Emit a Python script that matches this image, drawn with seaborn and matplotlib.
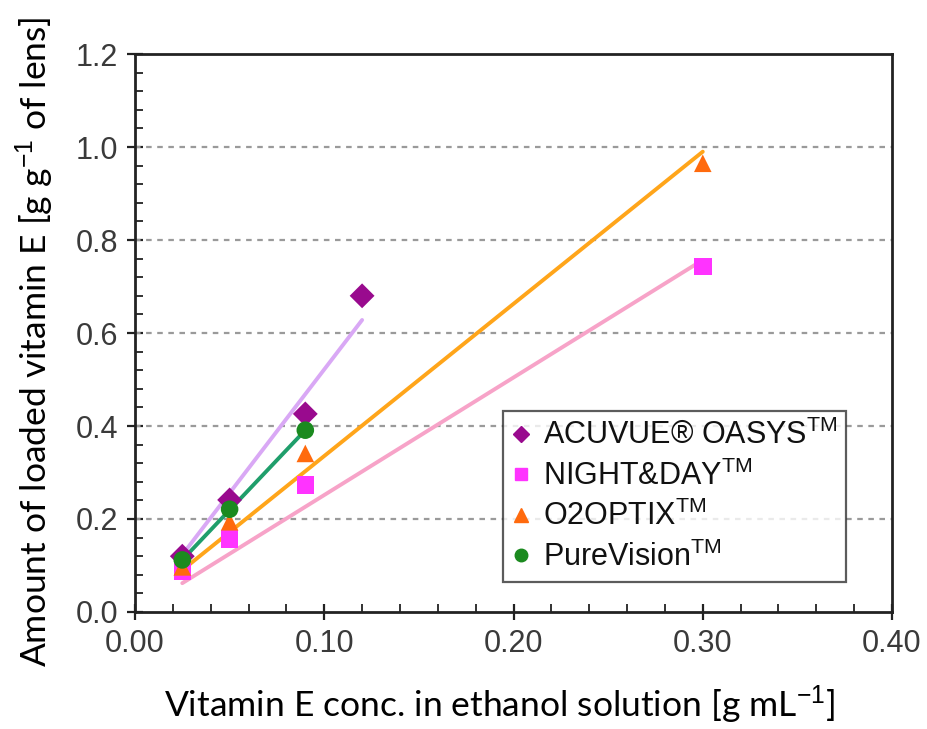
import matplotlib
matplotlib.use("Agg")
import matplotlib.pyplot as plt
from matplotlib.ticker import MultipleLocator
import numpy as np
import pandas as pd
import seaborn as sns

# Lens brands (legend order)
brands = ["ACUVUE® OASYS", "NIGHT&DAY", "O2OPTIX", "PureVision"]

# Measured loading (g per g of lens) vs. vitamin E concentration (g/mL)
acuvue_x = [0.025, 0.05, 0.09, 0.12]
acuvue_y = [0.120, 0.241, 0.426, 0.680]
nightday_x = [0.025, 0.05, 0.09, 0.30]
nightday_y = [0.087, 0.157, 0.273, 0.743]
o2optix_x = [0.025, 0.05, 0.09, 0.30]
o2optix_y = [0.097, 0.194, 0.341, 0.965]
purevision_x = [0.025, 0.05, 0.09]
purevision_y = [0.112, 0.221, 0.391]

# Linear fit lines (end points)
acuvue_fit_x = [0.025, 0.12]
acuvue_fit_y = [0.123, 0.628]
nightday_fit_x = [0.025, 0.30]
nightday_fit_y = [0.062, 0.757]
o2optix_fit_x = [0.025, 0.30]
o2optix_fit_y = [0.090, 0.990]
purevision_fit_x = [0.025, 0.09]
purevision_fit_y = [0.112, 0.391]

y_ticks = [0.0, 0.2, 0.4, 0.6, 0.8, 1.0, 1.2]
x_ticks = [0.00, 0.10, 0.20, 0.30, 0.40]

marker_colors = ["#990a8e", "#ff33ff", "#ff6a0d", "#1b8a1f"]
line_colors = ["#d9a8f5", "#f7a3c8", "#ffa51a", "#1f9e6b"]
markers = ["D", "s", "^", "o"]

points = pd.concat([
    pd.DataFrame({"conc": x, "amount": y, "brand": b})
    for b, x, y in zip(brands,
                       [acuvue_x, nightday_x, o2optix_x, purevision_x],
                       [acuvue_y, nightday_y, o2optix_y, purevision_y])
], ignore_index=True)
fits = pd.concat([
    pd.DataFrame({"conc": x, "amount": y, "brand": b})
    for b, x, y in zip(brands,
                       [acuvue_fit_x, nightday_fit_x, o2optix_fit_x, purevision_fit_x],
                       [acuvue_fit_y, nightday_fit_y, o2optix_fit_y, purevision_fit_y])
], ignore_index=True)

sns.set_theme(style="white")
plt.rcParams["font.family"] = ["Liberation Sans", "DejaVu Sans"]
plt.rcParams["mathtext.fontset"] = "custom"
plt.rcParams["mathtext.rm"] = "Liberation Sans"
plt.rcParams["mathtext.it"] = "Liberation Sans:italic"

fig = plt.figure(figsize=(9.27, 7.29), dpi=100)
ax = fig.add_axes([0.1456, 0.1605, 0.8167, 0.7654])

sns.lineplot(data=fits, x="conc", y="amount", hue="brand", hue_order=brands,
             palette=line_colors, linewidth=2.8, legend=False, ax=ax, zorder=2)
sns.scatterplot(data=points, x="conc", y="amount", hue="brand", style="brand",
                hue_order=brands, style_order=brands, palette=marker_colors,
                markers=markers, s=160, edgecolor="none", legend=False,
                ax=ax, zorder=3)

ax.set_xlim(0, 0.40)
ax.set_ylim(0, 1.2)
ax.set_xticks(x_ticks)
ax.set_xticklabels([f"{v:.2f}" for v in x_ticks])
ax.set_yticks(y_ticks)
ax.set_yticklabels([f"{v:.1f}" for v in y_ticks])
ax.xaxis.set_minor_locator(MultipleLocator(0.02))
ax.yaxis.set_minor_locator(MultipleLocator(0.04))
ax.tick_params(which="major", direction="inout", length=12, width=1.6,
               labelsize=22, labelcolor="#3a3a3a", color="#222222", pad=6,
               left=True, bottom=True)
ax.tick_params(which="minor", direction="in", length=6, width=1.3,
               color="#222222", left=True, bottom=True)

for gy in y_ticks[1:-1]:
    ax.axhline(gy, color="#9a9a9a", linestyle=(0, (2.5, 2.5)), linewidth=1.6, zorder=1)

for s in ax.spines.values():
    s.set_color("#222222")
    s.set_linewidth(2.0)

label_font = ["Lato", "DejaVu Sans"]
ax.set_xlabel("Vitamin E conc. in ethanol solution [g mL$^{-1}$]",
              fontsize=25.5, family=label_font, color="black")
ax.set_ylabel("Amount of loaded vitamin E [g g$^{-1}$ of lens]",
              fontsize=25.5, family=label_font, color="black")
ax.xaxis.label.set_va("center")
ax.xaxis.set_label_coords(0.481, -0.167)
ax.yaxis.label.set_va("center")
ax.yaxis.set_label_coords(-0.132, 0.484)

# Legend with superscript trademark marks
handles = [
    plt.Line2D([], [], linestyle="none", marker=m, color=c, markersize=ms)
    for m, c, ms in zip(markers, marker_colors, [8, 9, 10, 9])
]
labels = [b + "$^{\\mathrm{TM}}$" for b in brands]
leg = ax.legend(handles, labels, loc="lower left", bbox_to_anchor=(0.486, 0.054),
                fontsize=22, frameon=True, fancybox=False, handlelength=0.6,
                handletextpad=0.4, labelspacing=0.3, borderpad=0.3,
                borderaxespad=0)
leg.get_frame().set_edgecolor("#333333")
leg.get_frame().set_linewidth(1.6)
for t in leg.get_texts():
    t.set_color("#111111")

fig.savefig("out.png", dpi=100)
